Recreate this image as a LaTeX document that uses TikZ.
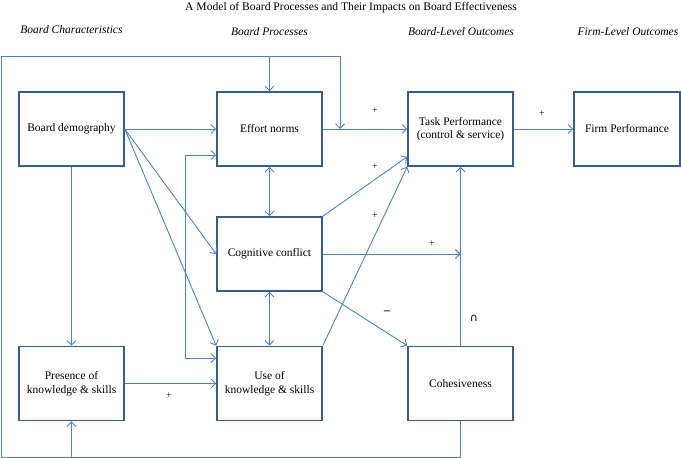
\documentclass[tikz,border=0pt]{standalone}
\usepackage{fontspec}
\setmainfont{Liberation Serif}
\newfontfamily\symfont{DejaVu Sans}
\usetikzlibrary{arrows.meta,calc}
\definecolor{boxblue}{HTML}{385D8A}
\definecolor{linkblue}{HTML}{4F81BD}
\begin{document}
\begin{tikzpicture}[x=1pt,y=-1pt,
  boxnode/.style={draw=boxblue,line width=1.6pt,fill=white,minimum width=105pt,minimum height=74pt,inner sep=0pt,align=center,font=\fontsize{11.5}{13.5}\selectfont},
  link/.style={draw=linkblue,line width=0.9pt,-{Straight Barb[length=4.5pt,width=9pt]}},
  dlink/.style={draw=linkblue,line width=0.9pt,{Straight Barb[length=4.5pt,width=9pt]}-{Straight Barb[length=4.5pt,width=9pt]}},
  plain/.style={draw=linkblue,line width=0.9pt},
  header/.style={font=\itshape\fontsize{11.5}{13}\selectfont},
  sign/.style={font=\fontsize{10}{11}\selectfont,inner sep=0pt}]
\useasboundingbox (0,0) rectangle (681,458);
\node[font=\fontsize{11.6}{13}\selectfont] (title) at (351,8) {A Model of Board Processes and Their Impacts on Board Effectiveness};
\node[header] (h1) at (71.5,30) {Board Characteristics};
\node[header] (h2) at (269.5,32) {Board Processes};
\node[header] (h3) at (461,32) {Board-Level Outcomes};
\node[header] (h4) at (628,32) {Firm-Level Outcomes};

\node[boxnode] (bd) at (71.5,129) {Board demography};
\node[boxnode] (en) at (269.5,129) {Effort norms};
\node[boxnode] (tp) at (460.5,129) {Task Performance\\(control \& service)};
\node[boxnode,minimum width=106pt] (fp) at (627,129) {Firm Performance};
\node[boxnode] (cc) at (269.5,254) {Cognitive conflict};
\node[boxnode] (uk) at (269.5,383.5) {Use of\\knowledge \& skills};
\node[boxnode] (pk) at (71.5,383.5) {Presence of\\knowledge \& skills};
\node[boxnode] (co) at (460.5,383.5) {Cohesiveness};

% outer loop
\coordinate (tl) at (1.5,56);
\coordinate (tr) at (340,56);
\coordinate (bl) at (1.5,457);
\coordinate (br) at (co.south |- bl);
\coordinate (jn) at (tr |- en.east);
\draw[plain] (co.south) -- (br) -- (bl) -- (tl) -- (tr);
\draw[link] (tr) -- (jn);
\draw[link] (en.north |- tl) -- (en.north);
\draw[link] (pk.south |- bl) -- (pk.south);

% feedback bracket
\coordinate (fb1) at ($(en.west)+(-31,26)$);
\coordinate (fb2) at ($(uk.west)+(-31,-25.5)$);
\draw[link] (fb2) -- (fb1) -- (fb1 -| en.west);
\draw[link] (fb1) -- (fb2) -- (fb2 -| uk.west);

% board demography
\draw[link] (bd.east) -- (en.west);
\draw[link] (bd.east) -- (cc.west);
\draw[link] (bd.east) -- (uk.north west);
\draw[link] (bd.south) -- (pk.north);
\draw[link] (pk.east) -- (uk.west);

% processes
\draw[dlink] (en.south) -- (cc.north);
\draw[dlink] (cc.south) -- (uk.north);
\draw[link] (en.east) -- (tp.west);
\draw[link] (tp.east) -- (fp.west);
\draw[link] (cc.north east) -- ($(tp.south west)+(0,-10)$);
\draw[link] (uk.north east) -- (tp.south west);
\draw[link] (cc.east) -- (cc.east -| co.north);
\draw[link] (cc.south east) -- (co.north west);
\draw[link] (co.north) -- (tp.south);

% signs
\node[sign] (s1) at (375,111) {+};
\node[sign] (s2) at (542,114) {+};
\node[sign] (s3) at (375,167) {+};
\node[sign] (s4) at (375,216) {+};
\node[sign] (s5) at (432,244) {+};
\node[sign] (s6) at (387,313) {\symfont −};
\node[sign] (s8) at (169,396) {+};
\node[font=\symfont\fontsize{11}{12}\selectfont,inner sep=0pt] (s7) at (474,318) {∩};
\end{tikzpicture}
\end{document}
